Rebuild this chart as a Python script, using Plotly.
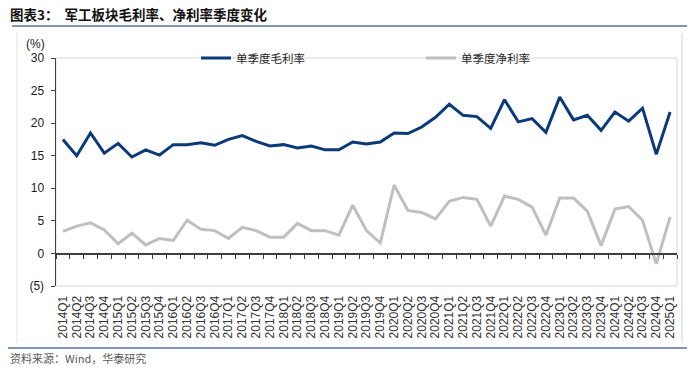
import plotly.graph_objects as go

categories = [
    "2014Q1", "2014Q2", "2014Q3", "2014Q4",
    "2015Q1", "2015Q2", "2015Q3", "2015Q4",
    "2016Q1", "2016Q2", "2016Q3", "2016Q4",
    "2017Q1", "2017Q2", "2017Q3", "2017Q4",
    "2018Q1", "2018Q2", "2018Q3", "2018Q4",
    "2019Q1", "2019Q2", "2019Q3", "2019Q4",
    "2020Q1", "2020Q2", "2020Q3", "2020Q4",
    "2021Q1", "2021Q2", "2021Q3", "2021Q4",
    "2022Q1", "2022Q2", "2022Q3", "2022Q4",
    "2023Q1", "2023Q2", "2023Q3", "2023Q4",
    "2024Q1", "2024Q2", "2024Q3", "2024Q4",
    "2025Q1",
]

gross_margin = [
    17.5, 15.0, 18.5, 15.4,
    16.9, 14.8, 15.9, 15.1,
    16.7, 16.7, 17.0, 16.6,
    17.5, 18.1, 17.2, 16.5,
    16.7, 16.2, 16.5, 15.9,
    15.9, 17.1, 16.8, 17.1,
    18.5, 18.4, 19.4, 20.9,
    22.9, 21.2, 21.0, 19.2,
    23.6, 20.2, 20.7, 18.6,
    24.0, 20.5, 21.2, 18.9,
    21.7, 20.3, 22.3, 15.2,
    21.7,
]

net_margin = [
    3.4, 4.2, 4.7, 3.6,
    1.5, 3.1, 1.3, 2.3,
    2.0, 5.1, 3.7, 3.5,
    2.3, 4.0, 3.5, 2.5,
    2.5, 4.6, 3.5, 3.5,
    2.8, 7.4, 3.5, 1.6,
    10.5, 6.6, 6.3, 5.3,
    8.0, 8.6, 8.3, 4.2,
    8.8, 8.3, 7.1, 2.8,
    8.5, 8.5, 6.5, 1.2,
    6.8, 7.2, 5.1, -1.6,
    5.6,
]

series_names = ["单季度毛利率", "单季度净利率"]
y_tick_values = [-5, 0, 5, 10, 15, 20, 25, 30]
y_tick_labels = ["(5)", "0", "5", "10", "15", "20", "25", "30"]

title_text = "<b>图表3：  军工板块毛利率、净利率季度变化</b>"
unit_text = "(%)"
source_text = "资料来源：Wind，华泰研究"

W, H = 700, 374
PL, PR, PT, PB = 56, 677, 58, 286  # plot area in pixels


def px2x(px):
    return (px - PL) / (PR - PL)


def py2y(py):
    return (PB - py) / (PB - PT)


fig = go.Figure()
fig.add_trace(go.Scatter(
    x=categories, y=gross_margin, mode="lines", name=series_names[0],
    line=dict(color="#0b3a78", width=3),
))
fig.add_trace(go.Scatter(
    x=categories, y=net_margin, mode="lines", name=series_names[1],
    line=dict(color="#bfbfbf", width=3),
))

CJK = "Noto Sans CJK SC"
LAT = "Liberation Sans, Arial"

fig.update_layout(
    width=W, height=H, autosize=False,
    margin=dict(l=PL, r=W - PR, t=PT, b=H - PB, pad=0, autoexpand=False),
    paper_bgcolor="white", plot_bgcolor="white",
    showlegend=True,
    legend=dict(
        orientation="h", x=px2x(196), xanchor="left", y=1.0, yanchor="middle",
        entrywidth=180, entrywidthmode="pixels",
        font=dict(family=CJK, size=11.5, color="#262626"),
        bgcolor="rgba(0,0,0,0)", itemwidth=30,
    ),
    xaxis=dict(
        type="category", range=[-0.5, len(categories) - 0.5],
        anchor="free", position=5 / 35,
        tickmode="array", tickvals=categories, ticktext=categories,
        showline=True, linecolor="#404040", linewidth=1.5,
        ticks="outside", ticklen=4, tickcolor="#404040", tickwidth=1,
        tickson="boundaries", tickangle=-90,
        tickfont=dict(family=LAT, size=12, color="#333333"),
        ticklabelstandoff=36,
        showgrid=False, zeroline=False,
    ),
    yaxis=dict(
        range=[-5, 30], tickmode="array", tickvals=y_tick_values, ticktext=y_tick_labels,
        showline=True, linecolor="#404040", linewidth=1.5,
        ticks="outside", ticklen=4, tickcolor="#404040",
        tickfont=dict(family=LAT, size=12, color="#1a1a1a"),
        ticklabelstandoff=4,
        showgrid=False, zeroline=False,
    ),
    hovermode=False,
)

shapes = [
    dict(type="rect", xref="paper", yref="paper", x0=0, x1=1, y0=0, y1=1,
         line=dict(color="#d9d9d9", width=1), layer="below"),
    dict(type="line", xref="paper", yref="paper", x0=px2x(17), x1=px2x(17),
         y0=py2y(32), y1=py2y(343), line=dict(color="#e3e3e3", width=1)),
    dict(type="line", xref="paper", yref="paper", x0=px2x(682), x1=px2x(682),
         y0=py2y(33), y1=py2y(343), line=dict(color="#d0d0d0", width=1)),
    dict(type="line", xref="paper", yref="paper", x0=px2x(12), x1=px2x(687),
         y0=py2y(26), y1=py2y(26), line=dict(color="#8196b6", width=2)),
    dict(type="line", xref="paper", yref="paper", x0=px2x(8), x1=px2x(687),
         y0=py2y(348), y1=py2y(348), line=dict(color="#8196b6", width=2)),
]
fig.update_layout(shapes=shapes)

annotations = [
    dict(text=title_text, xref="paper", yref="paper", x=px2x(8), y=py2y(14),
         xanchor="left", yanchor="middle", showarrow=False,
         font=dict(family=CJK, size=13.5, color="#111111")),
    dict(text=unit_text, xref="paper", yref="paper", x=px2x(35), y=py2y(44),
         xanchor="center", yanchor="middle", showarrow=False,
         font=dict(family=LAT, size=12, color="#1a1a1a")),
    dict(text=source_text, xref="paper", yref="paper", x=px2x(8), y=py2y(358),
         xanchor="left", yanchor="middle", showarrow=False,
         font=dict(family=CJK, size=11, color="#595959")),
]
fig.update_layout(annotations=annotations)

fig.write_html(
    "out.html",
    config={"displayModeBar": False, "staticPlot": True},
    post_script="document.body.style.margin='0';document.body.style.padding='0';",
)
